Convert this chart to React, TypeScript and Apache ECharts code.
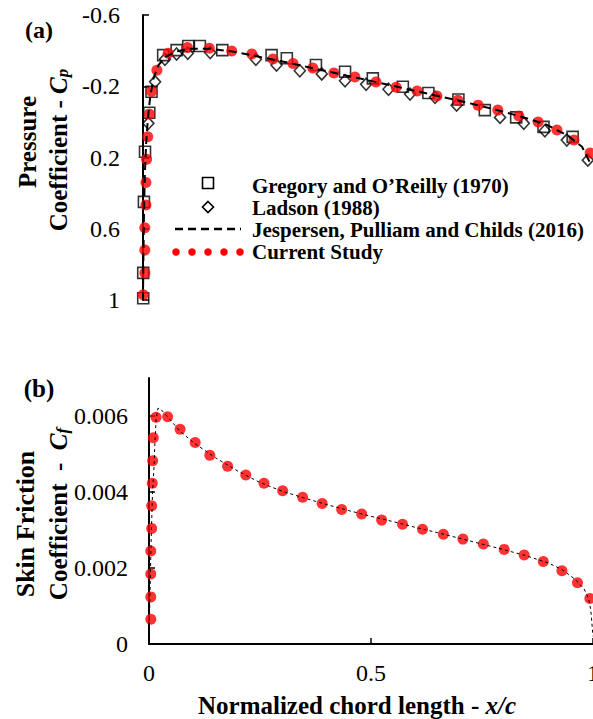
import React, { useEffect, useRef } from "react";
import * as echarts from "echarts";

// ---- tick values ----
const cpTicks = [-0.6, -0.2, 0.2, 0.6, 1];
const cfTicks = [0, 0.002, 0.004, 0.006];
const xTicks = [0, 0.5, 1];

// ---- (a) Pressure coefficient ----
const gregoryX = [0.0005, 0.0005, 0.002, 0.0045, 0.014, 0.019, 0.045, 0.075, 0.101, 0.127, 0.177, 0.287, 0.321, 0.386, 0.451, 0.513, 0.58, 0.637, 0.704, 0.763, 0.833, 0.894, 0.959];
const gregoryCp = [0.99, 0.848, 0.449, 0.168, -0.051, -0.169, -0.375, -0.403, -0.426, -0.426, -0.403, -0.375, -0.357, -0.319, -0.281, -0.244, -0.197, -0.162, -0.126, -0.066, -0.025, 0.028, 0.084];

const ladsonX = [0.012, 0.027, 0.049, 0.075, 0.1, 0.15, 0.252, 0.298, 0.35, 0.399, 0.451, 0.498, 0.548, 0.596, 0.652, 0.7, 0.797, 0.85, 0.897, 0.946, 0.993];
const ladsonCp = [0.008, -0.225, -0.351, -0.381, -0.385, -0.389, -0.351, -0.319, -0.287, -0.269, -0.231, -0.211, -0.183, -0.156, -0.138, -0.094, -0.025, 0.008, 0.05, 0.102, 0.215];

const jespX = [0, 0.0005, 0.002, 0.004, 0.007, 0.011, 0.016, 0.024, 0.035, 0.05, 0.075, 0.1, 0.15, 0.2, 0.25, 0.3, 0.35, 0.4, 0.45, 0.5, 0.55, 0.6, 0.65, 0.7, 0.75, 0.8, 0.85, 0.9, 0.95, 0.98, 1.0];
const jespCp = [1.0, 0.85, 0.55, 0.3, 0.12, -0.02, -0.14, -0.25, -0.32, -0.365, -0.395, -0.41, -0.41, -0.395, -0.37, -0.345, -0.318, -0.29, -0.262, -0.235, -0.207, -0.178, -0.15, -0.122, -0.092, -0.06, -0.025, 0.015, 0.08, 0.14, 0.24];

const curX = [0.0005, 0.004, 0.004, 0.004, 0.0065, 0.0065, 0.008, 0.0105, 0.014, 0.019, 0.031, 0.056, 0.099, 0.148, 0.198, 0.243, 0.29, 0.335, 0.379, 0.426, 0.473, 0.52, 0.565, 0.612, 0.656, 0.703, 0.748, 0.792, 0.839, 0.882, 0.924, 0.962, 0.998];
const curCp = [0.97, 0.848, 0.72, 0.595, 0.467, 0.34, 0.21, 0.084, -0.044, -0.17, -0.29, -0.385, -0.417, -0.413, -0.398, -0.381, -0.353, -0.328, -0.302, -0.274, -0.252, -0.224, -0.195, -0.173, -0.145, -0.122, -0.094, -0.066, -0.033, 0.001, 0.046, 0.102, 0.175];

// ---- (b) Skin friction coefficient ----
const jespCfX = [0, 0.002, 0.005, 0.008, 0.011, 0.013, 0.016, 0.02, 0.025, 0.04, 0.07, 0.1, 0.15, 0.2, 0.25, 0.3, 0.35, 0.4, 0.45, 0.5, 0.55, 0.6, 0.65, 0.7, 0.75, 0.8, 0.85, 0.9, 0.93, 0.96, 0.98, 0.99, 0.995, 1.0];
const jespCf = [0, 0.0012, 0.0028, 0.004, 0.0046, 0.0052, 0.0059, 0.0062, 0.0062, 0.006, 0.0056, 0.0053, 0.0049, 0.00455, 0.00425, 0.00402, 0.00384, 0.00367, 0.00351, 0.00336, 0.00322, 0.00307, 0.00293, 0.00278, 0.00263, 0.00248, 0.00232, 0.00213, 0.00196, 0.0017, 0.00145, 0.0012, 0.0009, 0.0002];

const curCfX = [0.004, 0.004, 0.004, 0.004, 0.006, 0.006, 0.0074, 0.0083, 0.0097, 0.0158, 0.042, 0.07, 0.104, 0.137, 0.177, 0.218, 0.259, 0.301, 0.346, 0.39, 0.434, 0.479, 0.524, 0.571, 0.616, 0.663, 0.707, 0.753, 0.8, 0.845, 0.888, 0.93, 0.965, 0.993];
const curCf = [0.00065, 0.00124, 0.00184, 0.00245, 0.00304, 0.00364, 0.00423, 0.00482, 0.00543, 0.00597, 0.00598, 0.00565, 0.0053, 0.00497, 0.00468, 0.00445, 0.00423, 0.00403, 0.00386, 0.0037, 0.00354, 0.00342, 0.00326, 0.00315, 0.00302, 0.00289, 0.00276, 0.00263, 0.00249, 0.00234, 0.00217, 0.00193, 0.00161, 0.0012];

const legendNames = [
  "Gregory and O\u2019Reilly (1970)",
  "Ladson (1988)",
  "Jespersen, Pulliam and Childs (2016)",
  "Current Study",
];

const FONT = '"Liberation Serif", "Times New Roman", serif';
const zip = (a: number[], b: number[]) => a.map((v, i) => [v, b[i]]);

export default function App() {
  const ref = useRef<HTMLDivElement>(null);
  useEffect(() => {
    if (!ref.current) return;
    const chart = echarts.init(ref.current, undefined, { renderer: "svg" });
    const axisLine = { show: true, lineStyle: { color: "#000", width: 2 } };
    const richName = {
      i: { fontFamily: FONT, fontSize: 25, fontWeight: "bold", fontStyle: "italic", fill: "#000" },
      s: { fontFamily: FONT, fontSize: 17, fontWeight: "bold", fontStyle: "italic", fill: "#000", verticalAlign: "bottom", lineHeight: 14 },
    };
    const option: any = {
      animation: false,
      backgroundColor: "#fff",
      grid: [
        { left: 143, top: 15, width: 448, height: 285, containLabel: false, outerBoundsMode: "none" },
        { left: 149, top: 378, width: 444, height: 266, containLabel: false, outerBoundsMode: "none" },
      ],
      xAxis: [
        {
          gridIndex: 0, type: "value", min: 0, max: 1,
          axisLine: { show: false }, axisTick: { show: false }, axisLabel: { show: false }, splitLine: { show: false },
        },
        {
          gridIndex: 1, type: "value", min: 0, max: 1,
          axisLine: { ...axisLine, onZero: false },
          axisTick: { show: true, inside: true, length: 6, customValues: xTicks, lineStyle: { color: "#000", width: 1.5 } },
          axisLabel: { customValues: xTicks, margin: 17, fontFamily: FONT, fontSize: 24, color: "#000", formatter: (v: number) => String(v) },
          splitLine: { show: false },
        },
      ],
      yAxis: [
        {
          gridIndex: 0, type: "value", min: -0.6, max: 1, inverse: true,
          axisLine: { ...axisLine, onZero: false },
          axisTick: { show: true, inside: true, length: 6, customValues: cpTicks, lineStyle: { color: "#000", width: 1.5 } },
          axisLabel: { customValues: cpTicks, margin: 23, fontFamily: FONT, fontSize: 24, color: "#000", formatter: (v: number) => String(Math.round(v * 10) / 10) },
          splitLine: { show: false },
        },
        {
          gridIndex: 1, type: "value", min: 0, max: 0.007,
          axisLine: { ...axisLine, onZero: false },
          axisTick: { show: true, inside: true, length: 6, customValues: cfTicks, lineStyle: { color: "#000", width: 1.5 } },
          axisLabel: { customValues: cfTicks, margin: 21, fontFamily: FONT, fontSize: 24, color: "#000", formatter: (v: number) => (v === 0 ? "0" : v.toFixed(3)) },
          splitLine: { show: false },
        },
      ],
      series: [
        {
          name: legendNames[0], type: "scatter", xAxisIndex: 0, yAxisIndex: 0,
          data: zip(gregoryX, gregoryCp), symbol: "rect", symbolSize: 11,
          itemStyle: { color: "rgba(0,0,0,0)", borderColor: "#000", borderWidth: 1.6 },
        },
        {
          name: legendNames[1], type: "scatter", xAxisIndex: 0, yAxisIndex: 0,
          data: zip(ladsonX, ladsonCp), symbol: "diamond", symbolSize: [11, 12],
          itemStyle: { color: "rgba(0,0,0,0)", borderColor: "#000", borderWidth: 1.6 },
        },
        {
          name: legendNames[2], type: "line", xAxisIndex: 0, yAxisIndex: 0,
          data: zip(jespX, jespCp), symbol: "none",
          lineStyle: { color: "#000", width: 2, type: [8, 5] },
        },
        {
          name: legendNames[3], type: "scatter", xAxisIndex: 0, yAxisIndex: 0,
          data: zip(curX, curCp), symbol: "circle", symbolSize: 11,
          itemStyle: { color: "#ff0000" },
        },
        {
          name: "Jespersen Cf", type: "line", xAxisIndex: 1, yAxisIndex: 1,
          data: zip(jespCfX, jespCf), symbol: "none",
          lineStyle: { color: "#000", width: 1, type: [3, 3] },
        },
        {
          name: "Current Cf", type: "scatter", xAxisIndex: 1, yAxisIndex: 1,
          data: zip(curCfX, curCf), symbol: "circle", symbolSize: 11,
          itemStyle: { color: "#ff0000" },
        },
      ],
      graphic: [
        { type: "text", x: 39, y: 30, style: { text: "(a)", font: `bold 24px ${FONT}`, fill: "#000", align: "center", verticalAlign: "middle" } },
        { type: "text", x: 39, y: 388, style: { text: "(b)", font: `bold 25px ${FONT}`, fill: "#000", align: "center", verticalAlign: "middle" } },
        { type: "text", x: 27, y: 142, rotation: Math.PI / 2, style: { text: "Pressure", font: `bold 25px ${FONT}`, fill: "#000", align: "center", verticalAlign: "middle" } },
        { type: "text", x: 58, y: 150, rotation: Math.PI / 2, style: { text: "Coefficient - {i|C}{s|p}", font: `bold 25px ${FONT}`, fill: "#000", align: "center", verticalAlign: "middle", rich: richName } },
        { type: "text", x: 25, y: 524, rotation: Math.PI / 2, style: { text: "Skin Friction", font: `bold 26px ${FONT}`, fill: "#000", align: "center", verticalAlign: "middle" } },
        { type: "text", x: 58, y: 514, rotation: Math.PI / 2, style: { text: "Coefficient  -  {i|C}{s|f}", font: `bold 25px ${FONT}`, fill: "#000", align: "center", verticalAlign: "middle", rich: richName } },
        { type: "text", x: 357, y: 705, style: { text: "Normalized chord length - {i|x/c}", font: `bold 25px ${FONT}`, fill: "#000", align: "center", verticalAlign: "middle", rich: { i: { fontFamily: FONT, fontSize: 25, fontWeight: "bold", fontStyle: "italic", fill: "#000" } } } },
        // legend
        { type: "rect", shape: { x: 202.5, y: 177.5, width: 11, height: 11 }, style: { fill: "none", stroke: "#000", lineWidth: 1.6 } },
        { type: "polygon", shape: { points: [[208, 201.5], [213.5, 207], [208, 212.5], [202.5, 207]] }, style: { fill: "none", stroke: "#000", lineWidth: 1.6 } },
        { type: "line", shape: { x1: 175, y1: 229, x2: 241, y2: 229 }, style: { stroke: "#000", lineWidth: 2.5, lineDash: [8, 5] } },
        ...[176, 192, 208, 224, 240].map((cx) => ({ type: "circle", shape: { cx, cy: 252, r: 3.8 }, style: { fill: "#ff0000" } })),
        ...legendNames.map((t, i) => ({
          type: "text", x: 252, y: 186 + i * 22,
          style: { text: t, font: `bold 21px ${FONT}`, fill: "#000", align: "left", verticalAlign: "middle" },
        })),
      ],
    };
    chart.setOption(option);
    return () => chart.dispose();
  }, []);
  return <div ref={ref} style={{ position: "absolute", left: 0, top: 0, width: 593, height: 719 }} />;
}
